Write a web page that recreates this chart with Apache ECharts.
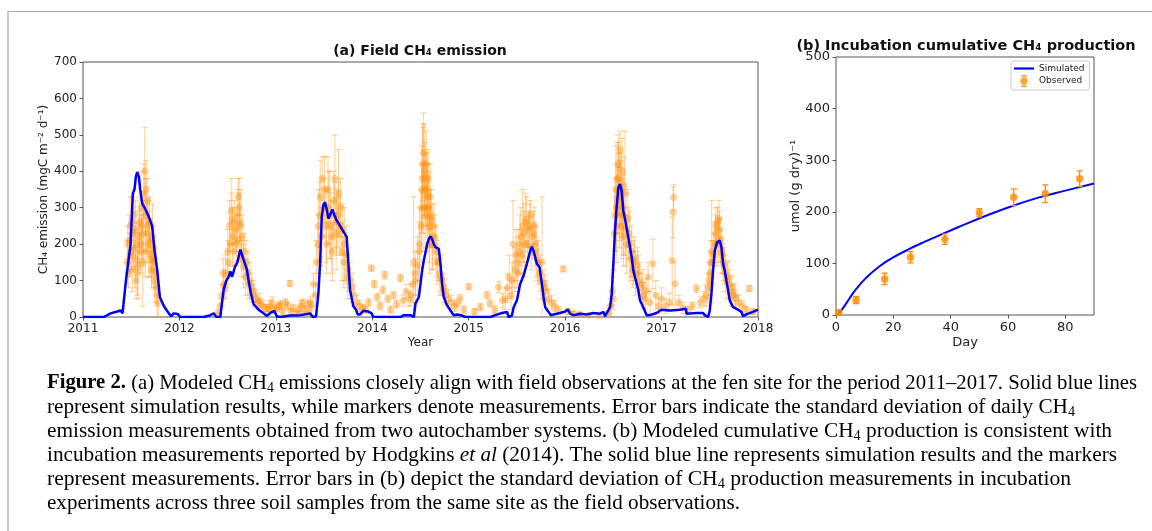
<!DOCTYPE html>
<html>
<head>
<meta charset="utf-8">
<title>Figure 2</title>
<script src="https://cdn.jsdelivr.net/npm/echarts@6/dist/echarts.min.js"></script>
<style>
  html, body { margin: 0; padding: 0; background: #fff; }
  #chart { width: 1152px; height: 531px; }
</style>
</head>
<body>
<div id="chart"></div>
<script>
// (a) field CH4 emission, simulated (blue line)
const simYears = [
  2011.0, 2011.217, 2011.286, 2011.355, 2011.39, 2011.41, 2011.43, 2011.445, 2011.469, 2011.493, 2011.517, 2011.534, 2011.548, 2011.562, 2011.579, 2011.593, 2011.614, 2011.648, 2011.683, 2011.717, 2011.741, 2011.769, 2011.797, 2011.838, 2011.89, 2011.914, 2011.941, 2011.983, 2012.01,
  2012.252, 2012.321, 2012.355, 2012.383, 2012.424, 2012.441, 2012.459, 2012.486, 2012.51, 2012.528, 2012.545, 2012.562, 2012.579, 2012.597, 2012.614, 2012.631, 2012.648, 2012.666, 2012.683, 2012.7, 2012.717, 2012.741, 2012.769, 2012.821, 2012.872, 2012.907, 2012.948, 2012.983, 2013.01, 2013.045,
  2013.148, 2013.252, 2013.355, 2013.383, 2013.417, 2013.441, 2013.459, 2013.476, 2013.493, 2013.51, 2013.528, 2013.545, 2013.562, 2013.586, 2013.607, 2013.631, 2013.666, 2013.7, 2013.734, 2013.752, 2013.769, 2013.803, 2013.831, 2013.848, 2013.872, 2013.907, 2013.959, 2013.993, 2014.01,
  2014.293, 2014.328, 2014.397, 2014.414, 2014.431, 2014.448, 2014.466, 2014.483, 2014.5, 2014.517, 2014.534, 2014.552, 2014.569, 2014.586, 2014.603, 2014.621, 2014.638, 2014.655, 2014.69, 2014.707, 2014.724, 2014.741, 2014.776, 2014.81, 2014.845, 2014.879, 2014.931, 2014.966,
  2015.224, 2015.276, 2015.345, 2015.397, 2015.414, 2015.448, 2015.466, 2015.5, 2015.534, 2015.569, 2015.603, 2015.638, 2015.655, 2015.672, 2015.707, 2015.734, 2015.759, 2015.776, 2015.793, 2015.828, 2015.852, 2015.879, 2015.948,
  2016.0, 2016.028, 2016.052, 2016.086, 2016.155, 2016.224, 2016.293, 2016.362, 2016.397, 2016.414, 2016.431, 2016.466, 2016.483, 2016.5, 2016.517, 2016.534, 2016.552, 2016.569, 2016.586, 2016.603, 2016.621, 2016.638, 2016.655, 2016.672, 2016.69, 2016.707, 2016.724, 2016.741, 2016.759, 2016.776, 2016.81, 2016.845, 2016.879, 2016.948,
  2017.0, 2017.086, 2017.19, 2017.252, 2017.259, 2017.362, 2017.431, 2017.448, 2017.483, 2017.5, 2017.517, 2017.534, 2017.552, 2017.576, 2017.603, 2017.621, 2017.638, 2017.655, 2017.672, 2017.69, 2017.707, 2017.741, 2017.793, 2017.828, 2017.845, 2017.879, 2017.948, 2018.0
]
const simEmission = [
  0, 0, 10, 15, 18, 10, 15, 100, 150, 200, 340, 350, 385, 398, 385, 350, 312, 295, 275, 250, 185, 130, 55, 30, 10, 2, 10, 8, 0,
  0, 5, 10, 0, 0, 38, 75, 100, 110, 125, 110, 110, 140, 148, 165, 185, 172, 157, 160, 130, 100, 65, 35, 20, 10, 3, 12, 17, 2, 0,
  4, 5, 10, 0, 2, 65, 148, 275, 308, 315, 295, 270, 280, 295, 280, 265, 250, 235, 220, 148, 75, 30, 20, 7, 7, 17, 15, 10, 0,
  0, 5, 5, 0, 0, 37, 41, 55, 91, 128, 155, 178, 200, 214, 221, 214, 200, 192, 187, 146, 91, 55, 32, 18, 5, 7, 4, 0,
  0, 5, 11, 14, 0, 4, 27, 46, 91, 114, 146, 182, 193, 182, 146, 137, 91, 55, 27, 14, 5, 7, 11,
  15, 21, 9, 5, 9, 7, 11, 9, 14, 2, 0, 27, 64, 146, 237, 301, 356, 365, 347, 292, 269, 265, 219, 192, 164, 128, 110, 105, 73, 46, 27, 5, 5, 11,
  20, 18, 20, 23, 9, 11, 11, 5, 0, 18, 64, 128, 182, 205, 210, 192, 146, 128, 100, 73, 46, 27, 20, 14, 2, 7, 14, 20
]

// (a) autochamber observations: daily mean and standard deviation
const obsYears = [
  2011.46, 2011.47, 2011.48, 2011.49, 2011.50, 2011.51, 2011.52, 2011.53, 2011.54, 2011.55, 2011.56, 2011.57, 2011.58, 2011.59, 2011.60, 2011.61, 2011.62, 2011.63, 2011.64, 2011.65, 2011.66, 2011.67, 2011.68, 2011.69, 2011.70, 2011.71, 2011.72, 2011.73, 2011.74, 2011.75, 2011.76, 2011.77, 2011.78,
  2011.465, 2011.485, 2011.505, 2011.525, 2011.545, 2011.565, 2011.585, 2011.605, 2011.625, 2011.645, 2011.655, 2011.675, 2011.695, 2011.715, 2011.735,
  2012.40, 2012.42, 2012.44, 2012.46, 2012.48, 2012.50, 2012.52, 2012.535, 2012.55, 2012.57, 2012.59, 2012.60, 2012.61, 2012.62, 2012.635, 2012.65, 2012.67, 2012.69, 2012.71, 2012.73, 2012.75, 2012.77, 2012.79, 2012.81, 2012.84, 2012.87, 2012.90, 2012.94, 2012.98,
  2012.455, 2012.475, 2012.505, 2012.525, 2012.545, 2012.565, 2012.585, 2012.605, 2012.625, 2012.645, 2012.665, 2012.685, 2012.725, 2012.765, 2012.825,
  2013.03, 2013.07, 2013.10, 2013.146, 2013.18, 2013.22, 2013.26, 2013.30, 2013.33, 2013.36, 2013.39,
  2012.92, 2012.96, 2013.01, 2013.05, 2013.12, 2013.16, 2013.24, 2013.28, 2013.34, 2013.37,
  2013.41, 2013.42, 2013.44, 2013.46, 2013.48, 2013.50, 2013.52, 2013.54, 2013.56, 2013.58, 2013.60, 2013.613, 2013.63, 2013.65, 2013.67, 2013.69, 2013.71, 2013.73, 2013.75, 2013.77, 2013.79, 2013.81, 2013.84, 2013.87, 2013.90, 2013.93,
  2013.435, 2013.455, 2013.475, 2013.505, 2013.525, 2013.545, 2013.565, 2013.585, 2013.605, 2013.625, 2013.645, 2013.665, 2013.685, 2013.705, 2013.745,
  2013.96, 2013.99, 2014.02, 2014.05, 2014.08, 2014.11, 2014.13, 2014.16, 2014.19, 2014.22, 2014.25, 2014.29, 2014.32, 2014.35, 2014.38,
  2014.40, 2014.42, 2014.43, 2014.45, 2014.47, 2014.49, 2014.51, 2014.52, 2014.53, 2014.54, 2014.55, 2014.56, 2014.57, 2014.58, 2014.59, 2014.60, 2014.61, 2014.62, 2014.64, 2014.66, 2014.68, 2014.70, 2014.72, 2014.74, 2014.76, 2014.79, 2014.82, 2014.85, 2014.88, 2014.91, 2014.95, 2015.00,
  2014.445, 2014.485, 2014.505, 2014.515, 2014.525, 2014.535, 2014.545, 2014.555, 2014.565, 2014.575, 2014.585, 2014.595, 2014.605, 2014.625, 2014.65, 2014.67, 2014.71, 2014.75,
  2015.06, 2015.12, 2015.19, 2015.22, 2015.27, 2015.31, 2015.35,
  2015.38, 2015.40, 2015.42, 2015.44, 2015.46, 2015.48, 2015.50, 2015.52, 2015.54, 2015.56, 2015.58, 2015.60, 2015.62, 2015.64, 2015.66, 2015.68, 2015.70, 2015.72, 2015.74, 2015.76, 2015.78, 2015.80, 2015.83, 2015.86, 2015.89, 2015.93,
  2015.45, 2015.49, 2015.51, 2015.53, 2015.55, 2015.57, 2015.59, 2015.61, 2015.63, 2015.65, 2015.67, 2015.69, 2015.71, 2015.75, 2015.79,
  2015.98, 2016.03, 2016.08, 2016.15, 2016.25, 2016.35, 2016.45,
  2016.47, 2016.49, 2016.50, 2016.51, 2016.53, 2016.54, 2016.55, 2016.56, 2016.57, 2016.58, 2016.59, 2016.60, 2016.61, 2016.62, 2016.63, 2016.65, 2016.67, 2016.69, 2016.71, 2016.73, 2016.75, 2016.77, 2016.79, 2016.81, 2016.83, 2016.86, 2016.88, 2016.91, 2016.94, 2016.97, 2017.00,
  2016.515, 2016.525, 2016.535, 2016.545, 2016.555, 2016.565, 2016.575, 2016.585, 2016.595, 2016.605, 2016.64, 2016.66, 2016.68, 2016.70, 2016.72, 2016.76, 2016.80, 2016.84,
  2017.04, 2017.08, 2017.11, 2017.12, 2017.125, 2017.14, 2017.18, 2017.22, 2017.27, 2017.32, 2017.36, 2017.40, 2017.44,
  2017.46, 2017.48, 2017.50, 2017.52, 2017.53, 2017.55, 2017.56, 2017.58, 2017.59, 2017.60, 2017.62, 2017.64, 2017.66, 2017.68, 2017.70, 2017.72, 2017.74, 2017.77, 2017.80, 2017.84, 2017.88, 2017.91, 2017.95,
  2017.49, 2017.51, 2017.54, 2017.565, 2017.575, 2017.595, 2017.61, 2017.63, 2017.65, 2017.69, 2017.73, 2017.76
]
const obsEmission = [
  150, 120, 210, 250, 180, 130, 230, 280, 160, 100, 200, 140, 220, 180, 300, 250, 150, 340, 400, 280, 230, 320, 200, 260, 170, 130, 220, 150, 100, 120, 80, 60, 40,
  200, 170, 260, 190, 240, 120, 260, 200, 230, 180, 350, 250, 210, 160, 190,
  10, 30, 60, 90, 120, 180, 250, 290, 220, 260, 200, 280, 330, 300, 250, 220, 180, 150, 120, 100, 80, 60, 50, 40, 35, 30, 25, 30, 20,
  120, 80, 150, 200, 270, 180, 240, 210, 260, 160, 140, 110, 90, 70, 45,
  30, 15, 40, 92, 25, 10, 30, 20, 35, 40, 90,
  20, 40, 25, 35, 30, 15, 20, 40, 10, 30,
  60, 150, 250, 330, 380, 300, 250, 350, 280, 220, 320, 380, 260, 340, 300, 240, 200, 170, 130, 100, 80, 60, 40, 30, 25, 20,
  200, 280, 220, 350, 200, 300, 250, 180, 280, 230, 280, 250, 180, 150, 110,
  40, 134, 90, 55, 30, 75, 115, 50, 20, 60, 35, 107, 45, 70, 50,
  60, 90, 150, 100, 140, 200, 300, 380, 450, 400, 350, 420, 300, 380, 250, 330, 280, 220, 250, 180, 150, 120, 100, 80, 60, 50, 40, 30, 35, 50, 20, 83,
  120, 180, 250, 350, 420, 300, 380, 280, 350, 330, 300, 200, 270, 200, 220, 150, 110, 70,
  15, 27, 60, 37, 20, 82, 45,
  50, 80, 110, 60, 200, 130, 150, 180, 220, 250, 200, 270, 240, 280, 220, 250, 180, 150, 120, 150, 90, 70, 50, 40, 30, 20,
  100, 170, 120, 200, 170, 230, 260, 200, 250, 190, 230, 200, 160, 100, 80,
  132, 15, 10, 8, 5, 5, 10,
  30, 70, 50, 230, 300, 380, 420, 330, 460, 350, 400, 280, 360, 340, 240, 270, 200, 180, 150, 120, 140, 100, 80, 60, 50, 110, 40, 146, 60, 30, 50,
  280, 350, 250, 320, 380, 280, 330, 250, 300, 220, 200, 230, 160, 130, 160, 120, 90, 70,
  30, 40, 155, 287, 328, 91, 40, 25, 20, 30, 78, 40, 50,
  60, 80, 120, 180, 150, 200, 230, 260, 210, 240, 180, 150, 120, 100, 90, 70, 60, 50, 40, 30, 20, 78, 15,
  100, 150, 170, 250, 200, 270, 210, 170, 140, 110, 80, 60
]
const obsEmissionSd = [
  60, 40, 70, 80, 50, 60, 60, 70, 80, 50, 60, 90, 70, 50, 100, 90, 120, 80, 120, 100, 80, 60, 90, 70, 60, 50, 90, 60, 60, 40, 50, 60, 40,
  50, 60, 70, 60, 80, 60, 70, 80, 90, 70, 80, 70, 60, 50, 60,
  10, 20, 30, 40, 50, 60, 70, 90, 80, 60, 50, 70, 50, 80, 100, 60, 50, 60, 60, 50, 40, 30, 25, 20, 15, 15, 10, 15, 10,
  40, 30, 60, 60, 70, 60, 60, 70, 80, 50, 60, 50, 40, 30, 20,
  10, 10, 10, 8, 10, 8, 15, 10, 12, 15, 30,
  10, 15, 10, 10, 10, 8, 10, 10, 8, 12,
  30, 60, 100, 100, 60, 80, 100, 90, 120, 100, 80, 120, 90, 120, 80, 70, 100, 80, 60, 50, 40, 30, 20, 15, 10, 10,
  80, 90, 80, 90, 80, 100, 90, 80, 90, 100, 90, 80, 80, 70, 60,
  10, 8, 10, 10, 10, 10, 10, 10, 10, 10, 10, 10, 15, 20, 20,
  30, 50, 180, 60, 80, 100, 120, 150, 110, 130, 100, 90, 120, 80, 100, 90, 70, 90, 60, 70, 50, 50, 40, 40, 30, 25, 20, 15, 15, 12, 10, 8,
  60, 80, 100, 120, 100, 120, 100, 90, 100, 90, 100, 80, 80, 70, 60, 60, 50, 35,
  8, 10, 10, 10, 10, 15, 20,
  30, 40, 60, 40, 120, 60, 70, 60, 80, 100, 90, 60, 50, 40, 60, 50, 70, 60, 50, 180, 40, 30, 25, 20, 15, 10,
  50, 70, 50, 80, 70, 80, 80, 60, 60, 60, 60, 60, 60, 50, 35,
  8, 8, 5, 5, 5, 5, 8,
  20, 40, 30, 100, 120, 100, 80, 120, 50, 100, 90, 110, 80, 170, 100, 80, 90, 70, 60, 60, 50, 50, 40, 35, 30, 40, 30, 68, 40, 20, 30,
  100, 120, 100, 90, 100, 90, 100, 90, 80, 80, 80, 70, 60, 50, 60, 50, 40, 35,
  20, 25, 120, 70, 35, 60, 20, 15, 10, 10, 10, 15, 20,
  30, 40, 60, 140, 60, 60, 50, 40, 60, 50, 60, 50, 50, 50, 40, 40, 30, 25, 20, 15, 10, 8, 8,
  50, 60, 60, 50, 60, 50, 60, 50, 50, 45, 35, 30
]

// (b) incubation cumulative CH4 production
const simDays = [0.5, 2, 4.7, 7, 10.5, 15.1, 19.8, 25.6, 31.4, 38.4, 47.7, 59.3, 70.9, 80, 90]
const simCumulative = [0, 10, 32, 50, 72, 94, 111, 128, 143, 160, 182, 207, 228, 241, 255]
const obsDays = [1, 7, 17, 26, 38, 50, 62, 73, 85]
const obsCumulative = [5, 29, 70, 112, 147, 198, 228, 235, 264]
const obsCumulativeSd = [4, 7, 11, 11, 10, 8, 16, 17, 15]

const dayTicks = [0, 20, 40, 60, 80]

const captionLines = [
  [['b', 'Figure 2.'], ['n', ' (a) Modeled CH'], ['sub', '4'], ['n', ' emissions closely align with field observations at the fen site for the period 2011–2017. Solid blue lines']],
  [['n', 'represent simulation results, while markers denote measurements. Error bars indicate the standard deviation of daily CH'], ['sub', '4']],
  [['n', 'emission measurements obtained from two autochamber systems. (b) Modeled cumulative CH'], ['sub', '4'], ['n', ' production is consistent with']],
  [['n', 'incubation measurements reported by Hodgkins '], ['i', 'et al'], ['n', ' ('], ['link', '2014'], ['n', '). The solid blue line represents simulation results and the markers']],
  [['n', 'represent measurements. Error bars in (b) depict the standard deviation of CH'], ['sub', '4'], ['n', ' production measurements in incubation']],
  [['n', 'experiments across three soil samples from the same site as the field observations.']]
]

const chart = echarts.init(document.getElementById('chart'))

const ORANGE = '#ff8c00'
const BLUE = '#0000ff'
const AXIS = '#555'
const FONT = 'DejaVu Sans'

// error bar drawn as a vertical line with caps
function errorBars (capHalf, color, width) {
  return function (params, api) {
    const x = api.value(0)
    const y = api.value(1)
    const sd = api.value(2)
    const top = api.coord([x, y + sd])
    const bottom = api.coord([x, y - sd])
    const st = () => ({ stroke: color, lineWidth: width })
    return {
      type: 'group',
      children: [
        { type: 'line', shape: { x1: top[0], y1: top[1], x2: bottom[0], y2: bottom[1] }, style: st() },
        { type: 'line', shape: { x1: top[0] - capHalf, y1: top[1], x2: top[0] + capHalf, y2: top[1] }, style: st() },
        { type: 'line', shape: { x1: bottom[0] - capHalf, y1: bottom[1], x2: bottom[0] + capHalf, y2: bottom[1] }, style: st() }
      ]
    }
  }
}

function axisCommon (size) {
  return {
    axisLine: { show: false },
    axisTick: { show: true, length: 3.5, lineStyle: { color: AXIS, width: 1 } },
    axisLabel: { color: '#222', fontFamily: FONT, fontSize: size, margin: 6 },
    splitLine: { show: false },
    nameMoveOverlap: false,
    nameTextStyle: { color: '#222', fontFamily: FONT, fontSize: size }
  }
}

// caption, stretched a little to keep the original line breaks
const serif = 'Liberation Serif'
const rich = {
  n: { fontFamily: serif, fontSize: 21, lineHeight: 24, color: '#1a1a1a' },
  b: { fontFamily: serif, fontSize: 21, lineHeight: 24, color: '#1a1a1a', fontWeight: 'bold' },
  i: { fontFamily: serif, fontSize: 21, lineHeight: 24, color: '#1a1a1a', fontStyle: 'italic' },
  link: { fontFamily: serif, fontSize: 21, lineHeight: 24, color: '#2a7ab8' },
  sub: { fontFamily: serif, fontSize: 14, lineHeight: 12, color: '#1a1a1a', verticalAlign: 'bottom' }
}
const ctx = document.createElement('canvas').getContext('2d')
function tokenWidth (kind, text) {
  const r = rich[kind]
  ctx.font = (r.fontStyle || '') + ' ' + (r.fontWeight || '') + ' ' + r.fontSize + 'px "' + r.fontFamily + '"'
  return ctx.measureText(text).width
}
const captionRight = [1137, 1075, 1112, 1117, 1071, 740]
const captionTop = 383
const captionElements = captionLines.map((tokens, k) => {
  const natural = tokens.reduce((s, t) => s + tokenWidth(t[0], t[1]), 0)
  return {
    type: 'text',
    x: 47,
    y: captionTop + k * 24,
    scaleX: (captionRight[k] - 47) / natural,
    style: {
      x: 0,
      y: 0,
      text: tokens.map(t => '{' + t[0] + '|' + t[1] + '}').join(''),
      rich: rich,
      verticalAlign: 'middle'
    }
  }
})

chart.setOption({
  animation: false,
  backgroundColor: '#fff',
  grid: [
    { left: 83, top: 62, width: 675, height: 255, show: true, borderColor: AXIS, borderWidth: 1, backgroundColor: 'transparent', containLabel: false, outerBoundsMode: 'none' },
    { left: 836, top: 57, width: 258, height: 258, show: true, borderColor: AXIS, borderWidth: 1, backgroundColor: 'transparent', containLabel: false, outerBoundsMode: 'none' }
  ],
  xAxis: [
    Object.assign(axisCommon(12), {
      type: 'value', gridIndex: 0, min: 2011, max: 2018, interval: 1,
      name: 'Year', nameLocation: 'middle', nameGap: 20
    }),
    Object.assign(axisCommon(13), {
      type: 'value', gridIndex: 1, min: 0, max: 90, interval: 20,
      name: 'Day', nameLocation: 'middle', nameGap: 21
    })
  ],
  yAxis: [
    Object.assign(axisCommon(12), {
      type: 'value', gridIndex: 0, min: 0, max: 700, interval: 100,
      name: 'CH₄ emission (mgC m⁻² d⁻¹)', nameLocation: 'middle', nameGap: 33
    }),
    Object.assign(axisCommon(13), {
      type: 'value', gridIndex: 1, min: 0, max: 500, interval: 100,
      name: 'umol (g dry)⁻¹', nameLocation: 'middle', nameGap: 34
    })
  ],
  legend: {
    left: 1011,
    top: 61,
    orient: 'vertical',
    padding: [3, 5, 3, 3],
    itemWidth: 20,
    itemHeight: 12,
    itemGap: 2,
    borderColor: '#ccc',
    borderWidth: 1,
    borderRadius: 2,
    backgroundColor: '#fff',
    textStyle: { fontFamily: FONT, fontSize: 9, color: '#222' },
    data: [
      { name: 'Simulated', icon: 'path://M0,0H20V2.2H0Z' },
      { name: 'Observed', icon: 'path://M3,0H9V1.4H3Z M5.3,0H6.7V12H5.3Z M3,10.6H9V12H3Z M9.6,6A3.6,3.6,0,1,1,2.4,6A3.6,3.6,0,1,1,9.6,6Z' }
    ]
  },
  graphic: {
    elements: [
      { type: 'line', shape: { x1: 8, y1: 11.5, x2: 1152, y2: 11.5 }, style: { stroke: '#a8a8a8', lineWidth: 1 } },
      { type: 'line', shape: { x1: 8, y1: 11, x2: 8, y2: 531 }, style: { stroke: '#c8c8c8', lineWidth: 2 } },
      { type: 'text', x: 420, y: 51, style: { text: '(a) Field CH₄ emission', font: 'bold 14px "DejaVu Sans"', fill: '#111', align: 'center', verticalAlign: 'middle' } },
      { type: 'text', x: 966, y: 46, style: { text: '(b) Incubation cumulative CH₄ production', font: 'bold 14.5px "DejaVu Sans"', fill: '#111', align: 'center', verticalAlign: 'middle' } }
    ].concat(captionElements)
  },
  series: [
    {
      name: 'Field obs error',
      type: 'custom',
      xAxisIndex: 0,
      yAxisIndex: 0,
      clip: true,
      renderItem: errorBars(3, 'rgba(255,140,0,0.42)', 1),
      encode: { x: 0, y: 1 },
      data: obsYears.map((x, i) => [x, obsEmission[i], obsEmissionSd[i]]),
      z: 1
    },
    {
      name: 'Field obs',
      type: 'scatter',
      xAxisIndex: 0,
      yAxisIndex: 0,
      symbolSize: 7,
      itemStyle: { color: 'rgba(255,140,0,0.5)' },
      data: obsYears.map((x, i) => [x, obsEmission[i]]),
      z: 2
    },
    {
      name: 'Field sim',
      type: 'line',
      xAxisIndex: 0,
      yAxisIndex: 0,
      symbol: 'none',
      lineStyle: { color: BLUE, width: 2.5 },
      itemStyle: { color: BLUE },
      data: simYears.map((x, i) => [x, simEmission[i]]),
      z: 3
    },
    {
      name: 'Simulated',
      type: 'line',
      xAxisIndex: 1,
      yAxisIndex: 1,
      symbol: 'none',
      smooth: 0.5,
      lineStyle: { color: BLUE, width: 2 },
      itemStyle: { color: BLUE },
      data: simDays.map((x, i) => [x, simCumulative[i]]),
      z: 3
    },
    {
      name: 'Observed error',
      type: 'custom',
      xAxisIndex: 1,
      yAxisIndex: 1,
      renderItem: errorBars(3, ORANGE, 1.3),
      encode: { x: 0, y: 1 },
      data: obsDays.map((x, i) => [x, obsCumulative[i], obsCumulativeSd[i]]),
      z: 4
    },
    {
      name: 'Observed',
      type: 'scatter',
      xAxisIndex: 1,
      yAxisIndex: 1,
      symbolSize: 7.5,
      itemStyle: { color: ORANGE },
      data: obsDays.map((x, i) => [x, obsCumulative[i]]),
      z: 5
    }
  ]
})

// plain year labels and only the listed day ticks
chart.setOption({
  xAxis: [
    { axisLabel: { formatter: v => String(v) } },
    { axisLabel: { customValues: dayTicks }, axisTick: { customValues: dayTicks } }
  ]
})
</script>
</body>
</html>
